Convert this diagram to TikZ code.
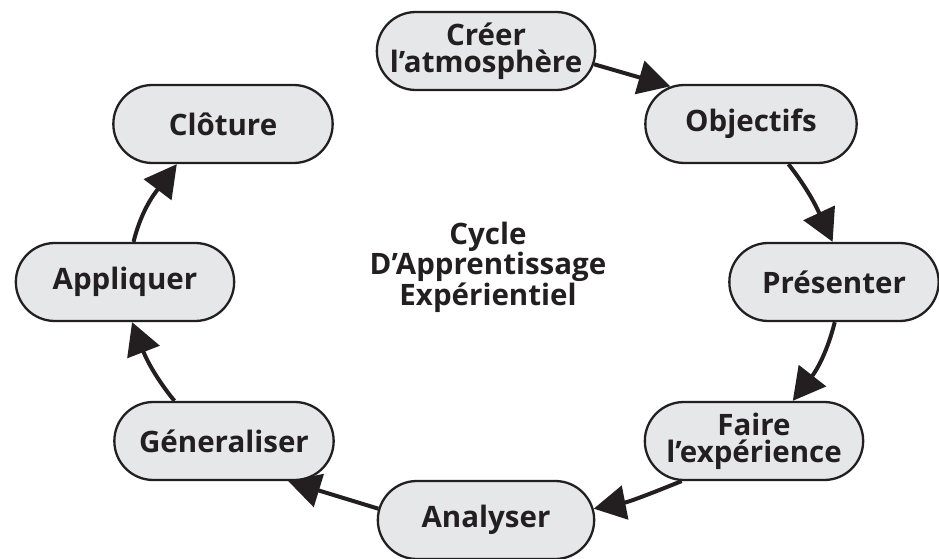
\documentclass[tikz,border=0pt]{standalone}
\usepackage{fontspec}
\newfontfamily\cyclefont{Open Sans}
\usetikzlibrary{shapes.misc,arrows.meta}
\definecolor{stagegray}{HTML}{E6E7E8}
\definecolor{inkblack}{HTML}{231F20}

\begin{document}
\begin{tikzpicture}[x=1pt, y=1pt,
    stage/.style={rounded rectangle, draw=inkblack, fill=stagegray, line width=2.3pt,
        minimum height=78pt, align=center, text=inkblack,
        font=\cyclefont\bfseries\fontsize{29.5}{27}\selectfont},
    flow/.style={draw=inkblack, line width=4pt, -{Triangle[length=32pt, width=34pt]}}]
    \useasboundingbox (0,0) rectangle (939,-559);

    % Stages, clockwise from the top
    \node[stage, minimum width=225pt] (creer) at (486,-51) {Créer\\l’atmosphère};
    \node[stage, minimum width=218pt] (obj) at (751,-124) {Objectifs};
    \node[stage, minimum width=216pt] (pres) at (834,-282) {Présenter};
    \node[stage, minimum width=225pt] (faire) at (754,-441) {Faire\\l’expérience};
    \node[stage, minimum width=223pt] (anal) at (486,-520) {Analyser};
    \node[stage, minimum width=226pt] (gen) at (224,-441) {Géneraliser};
    \node[stage, minimum width=225pt] (appl) at (125,-282) {Appliquer};
    \node[stage, minimum width=226pt] (clot) at (223,-124) {Clôture};

    % Title in the middle
    \node[align=center, text=inkblack, font=\cyclefont\bfseries\fontsize{29.5}{25.5}\selectfont]
        (title) at (488,-267) {Cycle\\D’Apprentissage\\Expérientiel};

    % Arrows
    \draw[flow] (creer.-7) -- (obj.155);
    \draw[flow] (obj.-47) to[out=-52, in=115] (pres.92);
    \draw[flow] (pres.-89) to[out=-104, in=52] (faire.46);
    \draw[flow] (faire.-151) to[out=202, in=11] (anal.6);
    \draw[flow] (anal.174) -- (gen.-32);
    \draw[flow] (gen.141) to[out=129, in=-69] (appl.-80);
    \draw[flow] (appl.78) to[out=76, in=233] (clot.-139);
\end{tikzpicture}
\end{document}
